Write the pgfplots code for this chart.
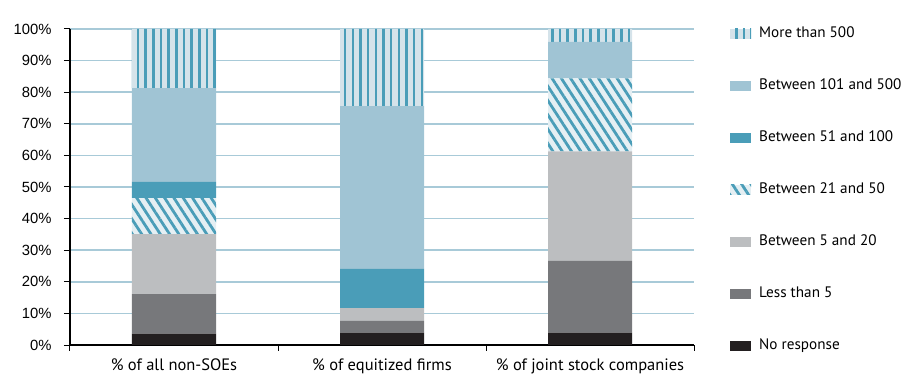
\documentclass[border=0pt]{standalone}
\usepackage{fontspec}
\setmainfont{PT Sans}
\newfontfamily\tickfont{Liberation Sans}
\usepackage{pgfplots}
\pgfplotsset{compat=1.18}
\usetikzlibrary{patterns.meta}

\definecolor{cdark}{HTML}{231F20}
\definecolor{cgrey}{HTML}{77787B}
\definecolor{clight}{HTML}{BCBEC0}
\definecolor{cteal}{HTML}{4A9DB8}
\definecolor{cpale}{HTML}{A0C4D4}
\definecolor{stripebg}{HTML}{D5E3EA}
\definecolor{diagbg}{HTML}{E5EFF3}
\definecolor{gridblue}{HTML}{A8CAD8}

\begin{document}
\begin{tikzpicture}
\begin{axis}[
  scale only axis, width=624bp, height=316bp,
  xmin=-0.5, xmax=2.5, ymin=0, ymax=100,
  ybar stacked, bar width=84bp,
  axis x line=bottom, axis y line=left,
  axis line style={-, black, line width=1.2bp},
  tick align=outside,
  ytick={0,10,...,100},
  yticklabel={\fontsize{14.8bp}{17bp}\tickfont\pgfmathprintnumber[assume math mode=true]{\tick}\%},
  yticklabel style={xshift=-9bp},
  ytick style={black, line width=1bp},
  major tick length=6bp,
  ymajorgrids, grid style={line width=1.5bp, gridblue},
  xtick={-0.5,0.5,1.5,2.5}, xticklabels={},
  xtick style={black, line width=1bp},
  extra x ticks={0,1,2},
  extra x tick labels={\% of all non-SOEs, \% of equitized firms, \% of joint stock companies},
  extra x tick style={major tick length=0pt, grid=none},
  xticklabel style={font=\fontsize{16.5bp}{19bp}\selectfont, anchor=north, yshift=-10.5bp},
  every axis plot post/.append style={
    legend image code/.code={\fill[##1] (0bp,-5bp) rectangle (21bp,5bp);}},
  reverse legend,
  legend cell align=left,
  legend style={at={(axis description cs:1.0577,1.006)}, anchor=north west,
    draw=none, fill=none, inner sep=0pt, row sep=39bp, column sep=8bp,
    font=\fontsize{15.2bp}{18bp}\selectfont,
    nodes={inner sep=0pt, text height=10bp, text depth=3bp}},
]
\addplot[fill=cdark, draw=none] coordinates {(0,3.6) (1,3.9) (2,3.9)};
\addlegendentry{No response}
\addplot[fill=cgrey, draw=none] coordinates {(0,12.5) (1,3.7) (2,22.7)};
\addlegendentry{Less than 5}
\addplot[fill=clight, draw=none] coordinates {(0,19.0) (1,4.1) (2,34.7)};
\addlegendentry{Between 5 and 20}
\addplot[fill=diagbg, draw=none,
  postaction={pattern={Lines[angle=-57, distance=7.8bp, line width=2.8bp]}, pattern color=cteal}]
  coordinates {(0,11.4) (1,0) (2,23.1)};
\addlegendentry{Between 21 and 50}
\addplot[fill=cteal, draw=none] coordinates {(0,5.1) (1,12.4) (2,0)};
\addlegendentry{Between 51 and 100}
\addplot[fill=cpale, draw=none] coordinates {(0,29.7) (1,51.5) (2,11.5)};
\addlegendentry{Between 101 and 500}
\addplot[fill=stripebg, draw=none,
  postaction={pattern={Lines[angle=90, distance=7.67bp, line width=2.6bp]}, pattern color=cteal}]
  coordinates {(0,18.7) (1,24.4) (2,4.1)};
\addlegendentry{More than 500}
\end{axis}
\pgfresetboundingbox
\useasboundingbox (-70bp,-29bp) rectangle (834bp,345bp);
\end{tikzpicture}
\end{document}
